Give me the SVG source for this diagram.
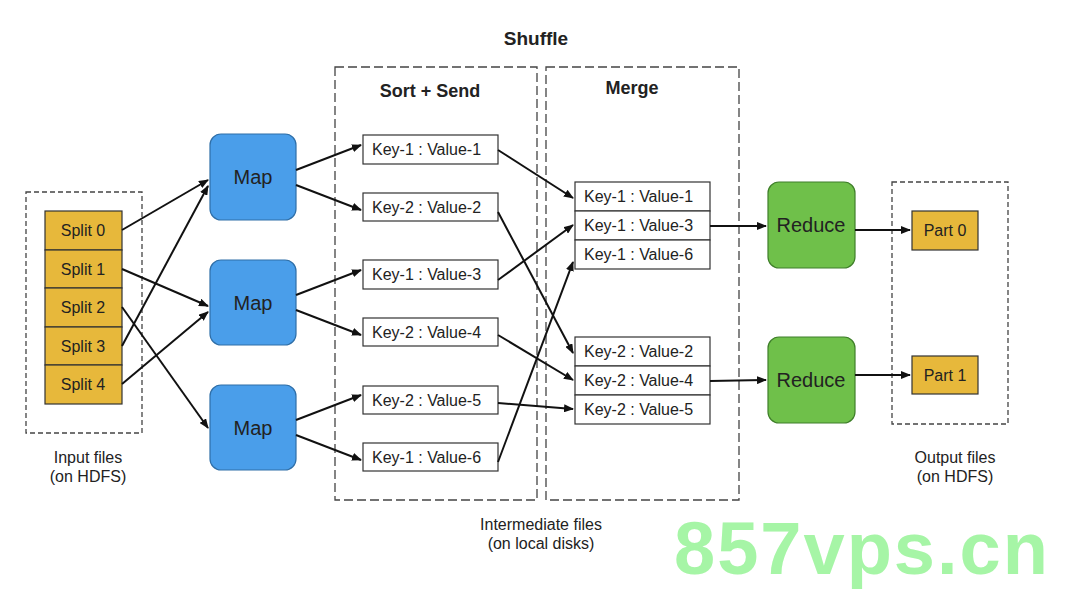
<svg xmlns="http://www.w3.org/2000/svg" width="1076" height="594" viewBox="0 0 1076 594">
<style>
text{font-family:"Liberation Sans",Arial,sans-serif;fill:#222}
.dash{fill:none;stroke:#444;stroke-width:1.3;stroke-dasharray:5,3}
.dash2{fill:none;stroke:#444;stroke-width:1.3;stroke-dasharray:9,4}
.split{fill:#e7b83b;stroke:#333;stroke-width:1.2}
.map{fill:#4a9eea;stroke:#2f6fa8;stroke-width:1.2}
.red{fill:#6fc04a;stroke:#3f7f2a;stroke-width:1.2}
.kv{fill:#fff;stroke:#333;stroke-width:1.2}
.t{font-size:16px}
.big{font-size:20px}
.c line{stroke:#111;stroke-width:2;marker-end:url(#a)}
</style>
<defs><marker id="a" markerWidth="10" markerHeight="8" refX="9" refY="4" orient="auto" markerUnits="userSpaceOnUse"><path d="M0,0L10,4L0,8z" fill="#111"/></marker></defs>
<rect width="1076" height="594" fill="#fff"/>
<text x="536" y="45" font-weight="bold" font-size="19" text-anchor="middle">Shuffle</text>
<rect class="dash" x="26" y="192" width="116" height="241"/>
<rect class="dash2" x="335" y="67" width="202" height="433"/>
<rect class="dash2" x="546" y="67" width="193" height="433"/>
<rect class="dash" x="892" y="182" width="116" height="242"/>
<text x="430" y="97" font-size="18" font-weight="bold" text-anchor="middle">Sort + Send</text>
<text x="632" y="94" font-size="18" font-weight="bold" text-anchor="middle">Merge</text>
<g id="splits" class="t" text-anchor="middle">
<rect class="split" x="45" y="211" width="77" height="39"/><text x="83" y="236">Split 0</text>
<rect class="split" x="45" y="250" width="77" height="38"/><text x="83" y="275">Split 1</text>
<rect class="split" x="45" y="288" width="77" height="39"/><text x="83" y="313">Split 2</text>
<rect class="split" x="45" y="327" width="77" height="38"/><text x="83" y="352">Split 3</text>
<rect class="split" x="45" y="365" width="77" height="39"/><text x="83" y="390">Split 4</text>
</g>
<g id="maps" class="big" text-anchor="middle">
<rect class="map" x="210" y="134" width="86" height="86" rx="11"/><text x="253" y="184">Map</text>
<rect class="map" x="210" y="260" width="86" height="85" rx="11"/><text x="253" y="310">Map</text>
<rect class="map" x="210" y="385" width="86" height="85" rx="11"/><text x="253" y="435">Map</text>
</g>
<g id="kvs" class="t">
<rect class="kv" x="363" y="135" width="135" height="29"/><text x="372" y="155">Key-1 : Value-1</text>
<rect class="kv" x="363" y="193" width="135" height="28"/><text x="372" y="213">Key-2 : Value-2</text>
<rect class="kv" x="363" y="260" width="135" height="29"/><text x="372" y="280">Key-1 : Value-3</text>
<rect class="kv" x="363" y="318" width="135" height="28"/><text x="372" y="338">Key-2 : Value-4</text>
<rect class="kv" x="363" y="386" width="135" height="28"/><text x="372" y="406">Key-2 : Value-5</text>
<rect class="kv" x="363" y="443" width="135" height="28"/><text x="372" y="463">Key-1 : Value-6</text>
</g>
<g id="merge" class="t">
<rect class="kv" x="575" y="182" width="135" height="29"/><text x="584" y="202">Key-1 : Value-1</text>
<rect class="kv" x="575" y="211" width="135" height="29"/><text x="584" y="231">Key-1 : Value-3</text>
<rect class="kv" x="575" y="240" width="135" height="29"/><text x="584" y="260">Key-1 : Value-6</text>
<rect class="kv" x="575" y="337" width="135" height="29"/><text x="584" y="357">Key-2 : Value-2</text>
<rect class="kv" x="575" y="366" width="135" height="29"/><text x="584" y="386">Key-2 : Value-4</text>
<rect class="kv" x="575" y="395" width="135" height="29"/><text x="584" y="415">Key-2 : Value-5</text>
</g>
<g id="reduces" class="big" text-anchor="middle">
<rect class="red" x="768" y="182" width="87" height="86" rx="11"/><text x="811" y="232">Reduce</text>
<rect class="red" x="768" y="337" width="87" height="86" rx="11"/><text x="811" y="387">Reduce</text>
</g>
<g id="parts" class="t" text-anchor="middle">
<rect class="split" x="912" y="211" width="66" height="39"/><text x="945" y="236">Part 0</text>
<rect class="split" x="912" y="356" width="66" height="38"/><text x="945" y="381">Part 1</text>
</g>
<g id="connectors" class="c">
<line x1="122" y1="230" x2="208" y2="180"/>
<line x1="122" y1="269" x2="208" y2="306"/>
<line x1="122" y1="307" x2="208" y2="428"/>
<line x1="122" y1="346" x2="208" y2="186"/>
<line x1="122" y1="384" x2="208" y2="312"/>
<line x1="296" y1="170" x2="361" y2="145"/>
<line x1="296" y1="185" x2="361" y2="210"/>
<line x1="296" y1="295" x2="361" y2="270"/>
<line x1="296" y1="310" x2="361" y2="335"/>
<line x1="296" y1="420" x2="361" y2="395"/>
<line x1="296" y1="435" x2="361" y2="460"/>
<line x1="498" y1="150" x2="573" y2="198"/>
<line x1="498" y1="280" x2="573" y2="225"/>
<line x1="498" y1="462" x2="573" y2="262"/>
<line x1="498" y1="212" x2="573" y2="353"/>
<line x1="498" y1="335" x2="573" y2="380"/>
<line x1="498" y1="403" x2="573" y2="409"/>
<line x1="710" y1="226" x2="766" y2="226"/>
<line x1="710" y1="381" x2="766" y2="380"/>
<line x1="855" y1="230" x2="910" y2="230"/>
<line x1="855" y1="375" x2="910" y2="375"/>
</g>
<g class="t" font-size="15" fill="#333" text-anchor="middle">
<text x="88" y="463">Input files</text><text x="88" y="482">(on HDFS)</text>
<text x="955" y="463">Output files</text><text x="955" y="482">(on HDFS)</text>
<text x="541" y="530">Intermediate files</text><text x="541" y="549">(on local disks)</text>
</g>
<text x="862" y="574" font-size="74" font-weight="bold" letter-spacing="2" text-anchor="middle" style="fill:#a6f5a6">857vps.cn</text>
</svg>
